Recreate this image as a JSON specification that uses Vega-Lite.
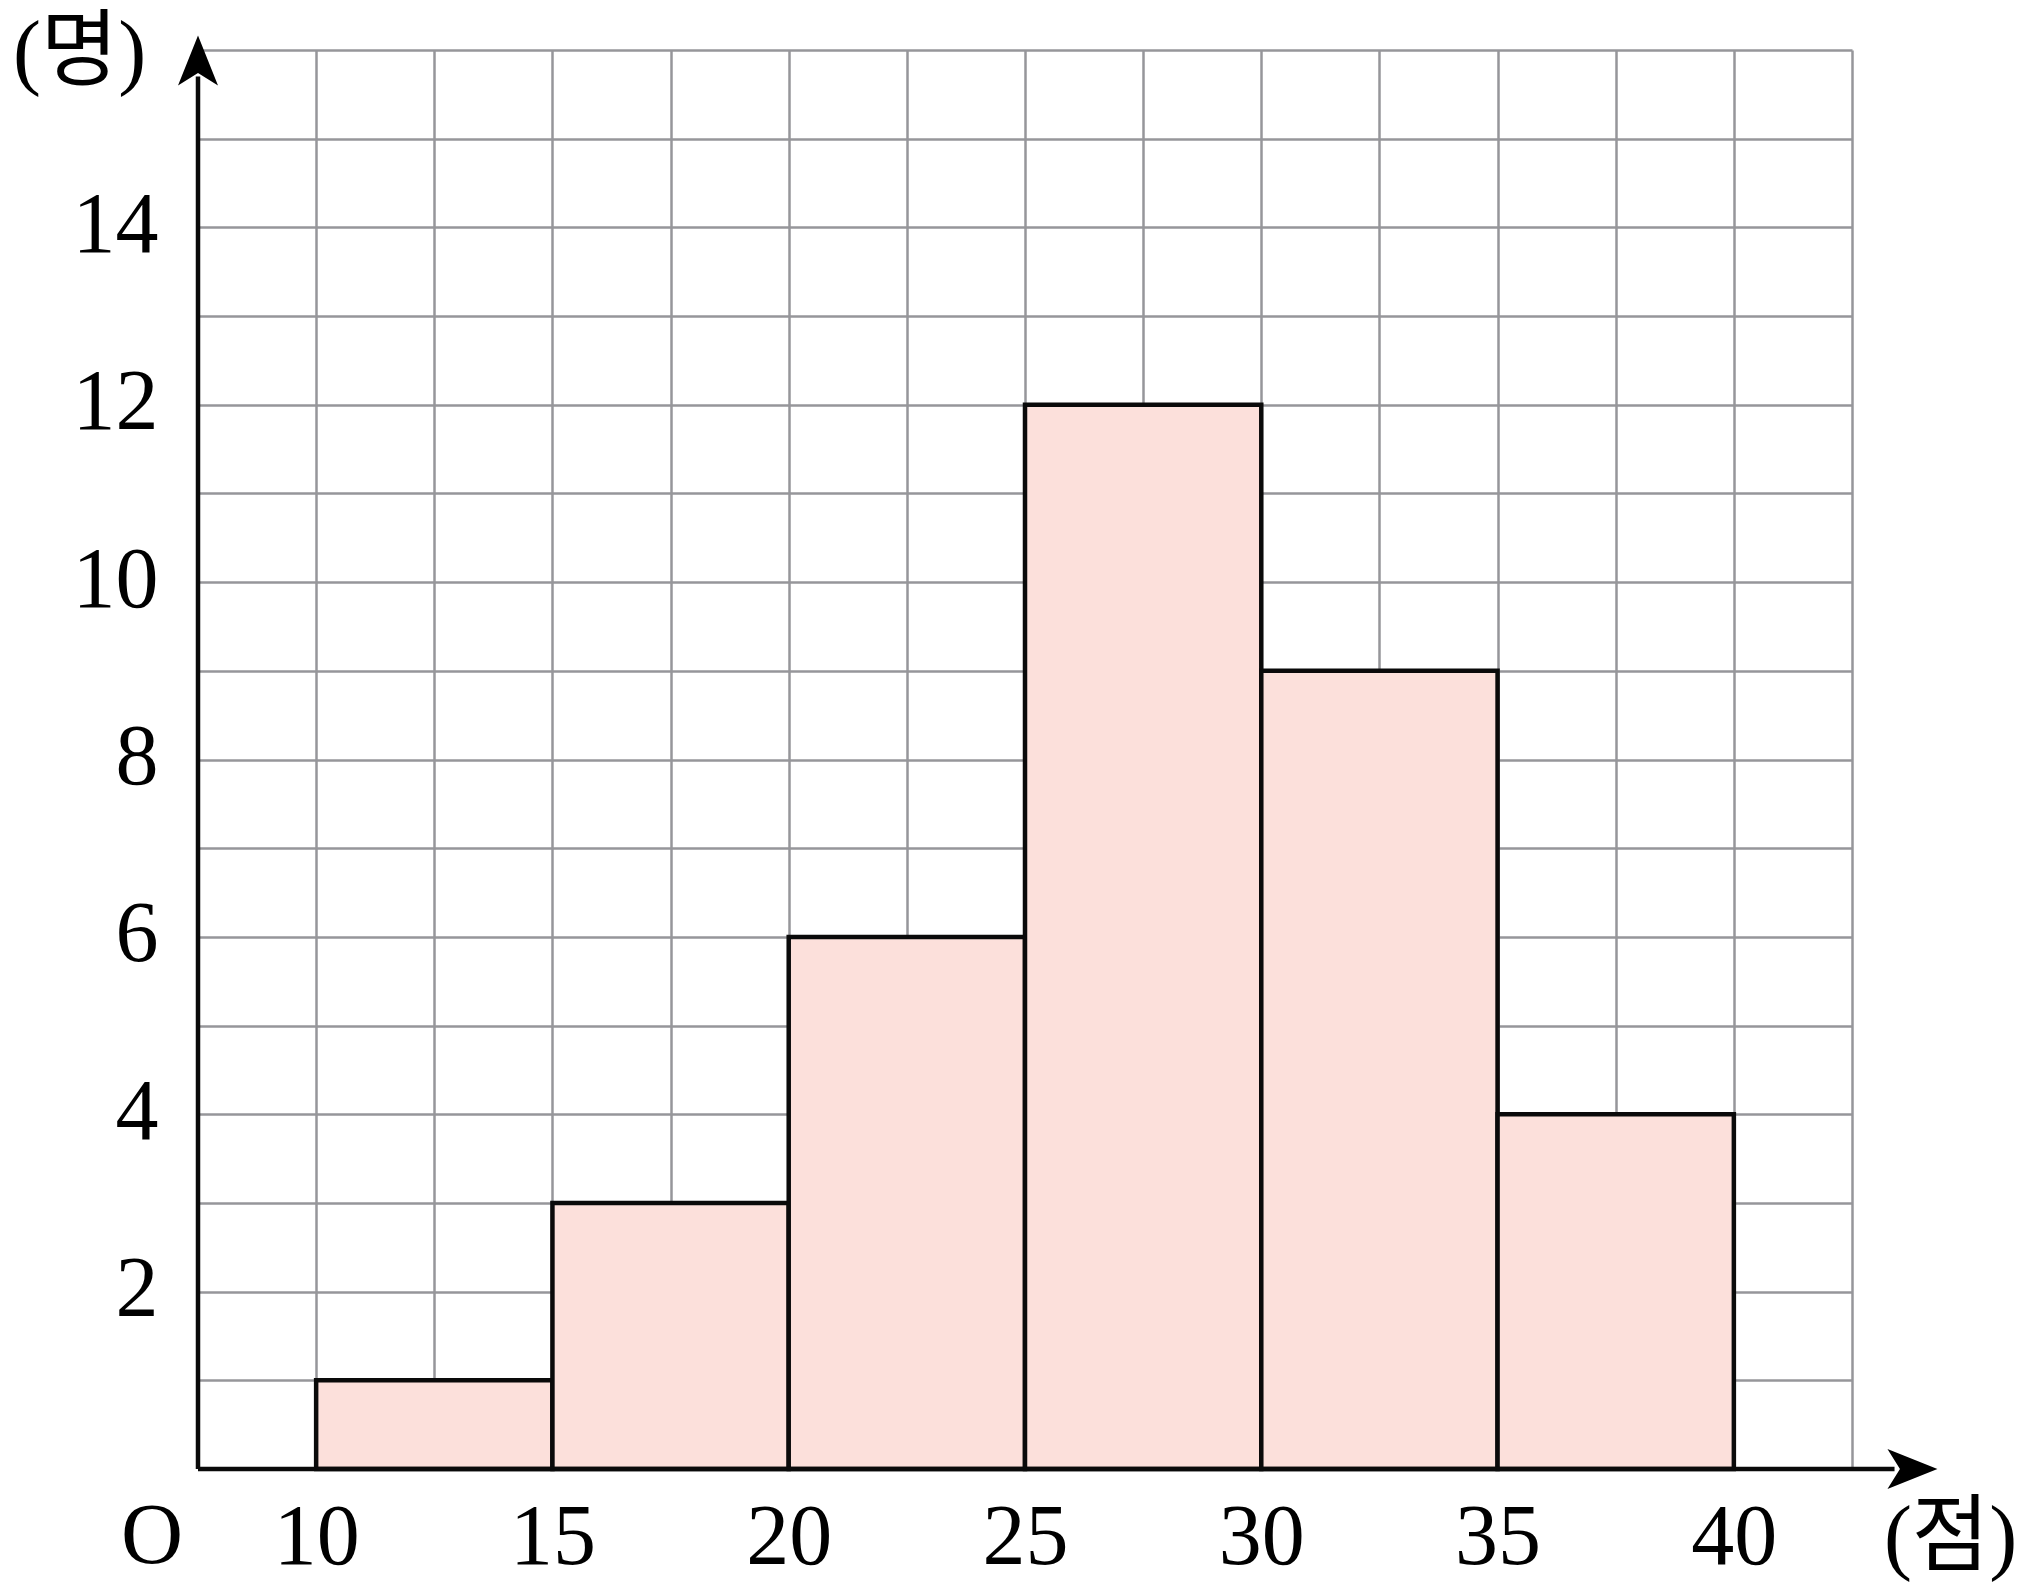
{
  "$schema": "https://vega.github.io/schema/vega-lite/v6.json",
  "width": 1654,
  "height": 1419,
  "autosize": {"type": "none"},
  "padding": {"left": 198, "top": 50, "right": 179, "bottom": 122},
  "background": "white",
  "config": {"view": {"stroke": null}},
  "layer": [
    {
      "data": {"values": [
        {"start": 10, "end": 15, "count": 1},
        {"start": 15, "end": 20, "count": 3},
        {"start": 20, "end": 25, "count": 6},
        {"start": 25, "end": 30, "count": 12},
        {"start": 30, "end": 35, "count": 9},
        {"start": 35, "end": 40, "count": 4}
      ]},
      "mark": {"type": "bar", "fill": "#fce0db", "stroke": "#0a0a0a", "strokeWidth": 4.5, "opacity": 1},
      "encoding": {
        "x": {
          "field": "start", "type": "quantitative",
          "scale": {"domain": [7.5, 42.5], "nice": false, "zero": false},
          "axis": {
            "values": [10, 12.5, 15, 17.5, 20, 22.5, 25, 27.5, 30, 32.5, 35, 37.5, 40, 42.5],
            "grid": true, "gridColor": "#96969a", "gridWidth": 2.5, "gridOpacity": 1,
            "domain": false, "ticks": false, "tickSize": 0,
            "labelExpr": "datum.value % 5 == 0 ? datum.label : ''",
            "labelFont": "Liberation Serif", "labelFontSize": 86, "labelColor": "black",
            "labelBaseline": "alphabetic", "labelPadding": 94, "labelFlush": false, "labelOverlap": false,
            "title": "(점)", "titleX": 1752, "titleY": 94, "titleBaseline": "alphabetic", "titleAlign": "center",
            "titleFont": "'Liberation Serif', 'Noto Sans CJK KR'", "titleFontSize": 84, "titleFontWeight": "normal", "titleColor": "black"
          }
        },
        "x2": {"field": "end"},
        "y": {
          "field": "count", "type": "quantitative",
          "scale": {"domain": [0, 16], "nice": false},
          "axis": {
            "values": [1, 2, 3, 4, 5, 6, 7, 8, 9, 10, 11, 12, 13, 14, 15, 16],
            "format": "d",
            "grid": true, "gridColor": "#96969a", "gridWidth": 2.5, "gridOpacity": 1,
            "domain": false, "ticks": false, "tickSize": 0,
            "labelExpr": "datum.value % 2 == 0 && datum.value < 16 ? datum.label : ''",
            "labelFont": "Liberation Serif", "labelFontSize": 86, "labelColor": "black",
            "labelAlign": "right", "labelBaseline": "alphabetic", "labelOffset": 24, "labelPadding": 40,
            "labelFlush": false, "labelOverlap": false,
            "title": "(명)", "titleAngle": 0, "titleX": -119, "titleY": 28, "titleBaseline": "alphabetic", "titleAlign": "center",
            "titleFont": "'Liberation Serif', 'Noto Sans CJK KR'", "titleFontSize": 84, "titleFontWeight": "normal", "titleColor": "black"
          }
        },
        "y2": {"datum": 0}
      }
    },
    {
      "data": {"values": [{}]},
      "mark": {"type": "rule", "stroke": "#0a0a0a", "strokeWidth": 4.5},
      "encoding": {"x": {"datum": 7.5}, "x2": {"datum": 43.4}, "y": {"datum": 0}}
    },
    {
      "data": {"values": [{}]},
      "mark": {"type": "rule", "stroke": "#0a0a0a", "strokeWidth": 4.5},
      "encoding": {"x": {"datum": 7.5}, "y": {"datum": 0}, "y2": {"datum": 15.7}}
    },
    {
      "data": {"values": [{}]},
      "mark": {"type": "point", "shape": "M 1 0 L 0 -0.4 L 0.25 0 L 0 0.4 Z", "filled": true, "fill": "black", "stroke": null, "size": 10000, "opacity": 1},
      "encoding": {"x": {"datum": 43.25}, "y": {"datum": 0}}
    },
    {
      "data": {"values": [{}]},
      "mark": {"type": "point", "shape": "M 0 -1 L 0.4 0 L 0 -0.25 L -0.4 0 Z", "filled": true, "fill": "black", "stroke": null, "size": 10000, "opacity": 1},
      "encoding": {"x": {"datum": 7.5}, "y": {"datum": 15.6}}
    },
    {
      "data": {"values": [{}]},
      "mark": {"type": "text", "text": "O", "font": "Liberation Serif", "fontSize": 86, "color": "black", "align": "center", "baseline": "alphabetic", "dx": -46, "dy": 94},
      "encoding": {"x": {"datum": 7.5}, "y": {"datum": 0}}
    }
  ]
}
